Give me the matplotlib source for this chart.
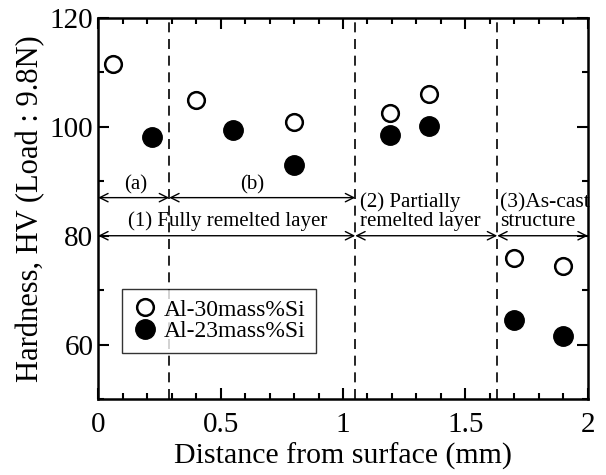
import matplotlib.pyplot as plt
from matplotlib.ticker import MultipleLocator

plt.rcParams['font.family'] = ['Liberation Serif', 'DejaVu Serif']

# Al-30mass%Si (open circles)
dist_30 = [0.06, 0.40, 0.80, 1.19, 1.35, 1.70, 1.90]
hv_30 = [111.6, 104.9, 100.9, 102.5, 106.1, 76.0, 74.5]

# Al-23mass%Si (filled circles)
dist_23 = [0.22, 0.55, 0.80, 1.19, 1.35, 1.70, 1.90]
hv_23 = [98.2, 99.4, 93.0, 98.5, 100.1, 64.6, 61.5]

# region borders (mm)
borders = [0.29, 1.05, 1.63]


def double_arrow(ax, x0, x1, y):
    ax.annotate('', xy=(x1, y), xytext=(x0, y),
                arrowprops=dict(arrowstyle='<->', lw=1.0, color='black',
                                shrinkA=0, shrinkB=0, mutation_scale=15))


def main():
    fig = plt.figure(figsize=(6.06, 4.75), dpi=100)
    ax = fig.add_axes([0.162, 0.16, 0.808, 0.802])

    ax.plot(dist_30, hv_30, 'o', mfc='white', mec='black', mew=1.8, ms=12,
            label='Al-30mass%Si')
    ax.plot(dist_23, hv_23, 'o', mfc='black', mec='black', ms=14,
            label='Al-23mass%Si')

    for b in borders:
        ax.axvline(b, color='black', lw=1.2, ls=(0, (6, 4)))

    double_arrow(ax, 0, borders[0], 87)
    double_arrow(ax, borders[0], borders[1], 87)
    double_arrow(ax, 0, borders[1], 80)
    double_arrow(ax, borders[1], borders[2], 80)
    double_arrow(ax, borders[2], 2.0, 80)

    ax.text(0.155, 87.6, '(a)', ha='center', va='bottom', fontsize=15)
    ax.text(0.63, 87.6, '(b)', ha='center', va='bottom', fontsize=15)
    ax.text(0.53, 80.8, '(1) Fully remelted layer', ha='center', va='bottom',
            fontsize=15)
    ax.text(1.07, 80.8, '(2) Partially\nremelted layer', ha='left',
            va='bottom', fontsize=15, linespacing=1.0)
    ax.text(1.64, 80.8, '(3)As-cast\nstructure', ha='left', va='bottom',
            fontsize=15.5, linespacing=1.0)

    ax.set_xlim(0, 2)
    ax.set_ylim(50, 120)
    ax.xaxis.set_minor_locator(MultipleLocator(0.1))
    ax.yaxis.set_major_locator(MultipleLocator(20))
    ax.yaxis.set_minor_locator(MultipleLocator(10))
    ax.set_xticks([0, 0.5, 1, 1.5, 2])
    ax.set_xticklabels(['0', '0.5', '1', '1.5', '2'])
    ax.tick_params(which='both', direction='in', top=True, right=True,
                   labelsize=21, width=1.5)
    ax.tick_params(which='major', length=8)
    ax.tick_params(which='minor', length=4)
    ax.tick_params(axis='x', pad=9)
    for s in ax.spines.values():
        s.set_linewidth(1.8)

    ax.set_xlabel('Distance from surface (mm)', fontsize=21.5, labelpad=4)
    ax.set_ylabel('Hardness, HV (Load : 9.8N)', fontsize=22, labelpad=3)

    leg = ax.legend(loc='lower left', bbox_to_anchor=(0.049, 0.121),
                    fontsize=17, frameon=True, fancybox=False,
                    handletextpad=0.3, borderpad=0.45, labelspacing=0.0,
                    handlelength=1.0, borderaxespad=0)
    leg.get_frame().set_edgecolor('black')
    leg.get_frame().set_linewidth(1.0)

    fig.savefig('out.png', dpi=100)


if __name__ == '__main__':
    main()
